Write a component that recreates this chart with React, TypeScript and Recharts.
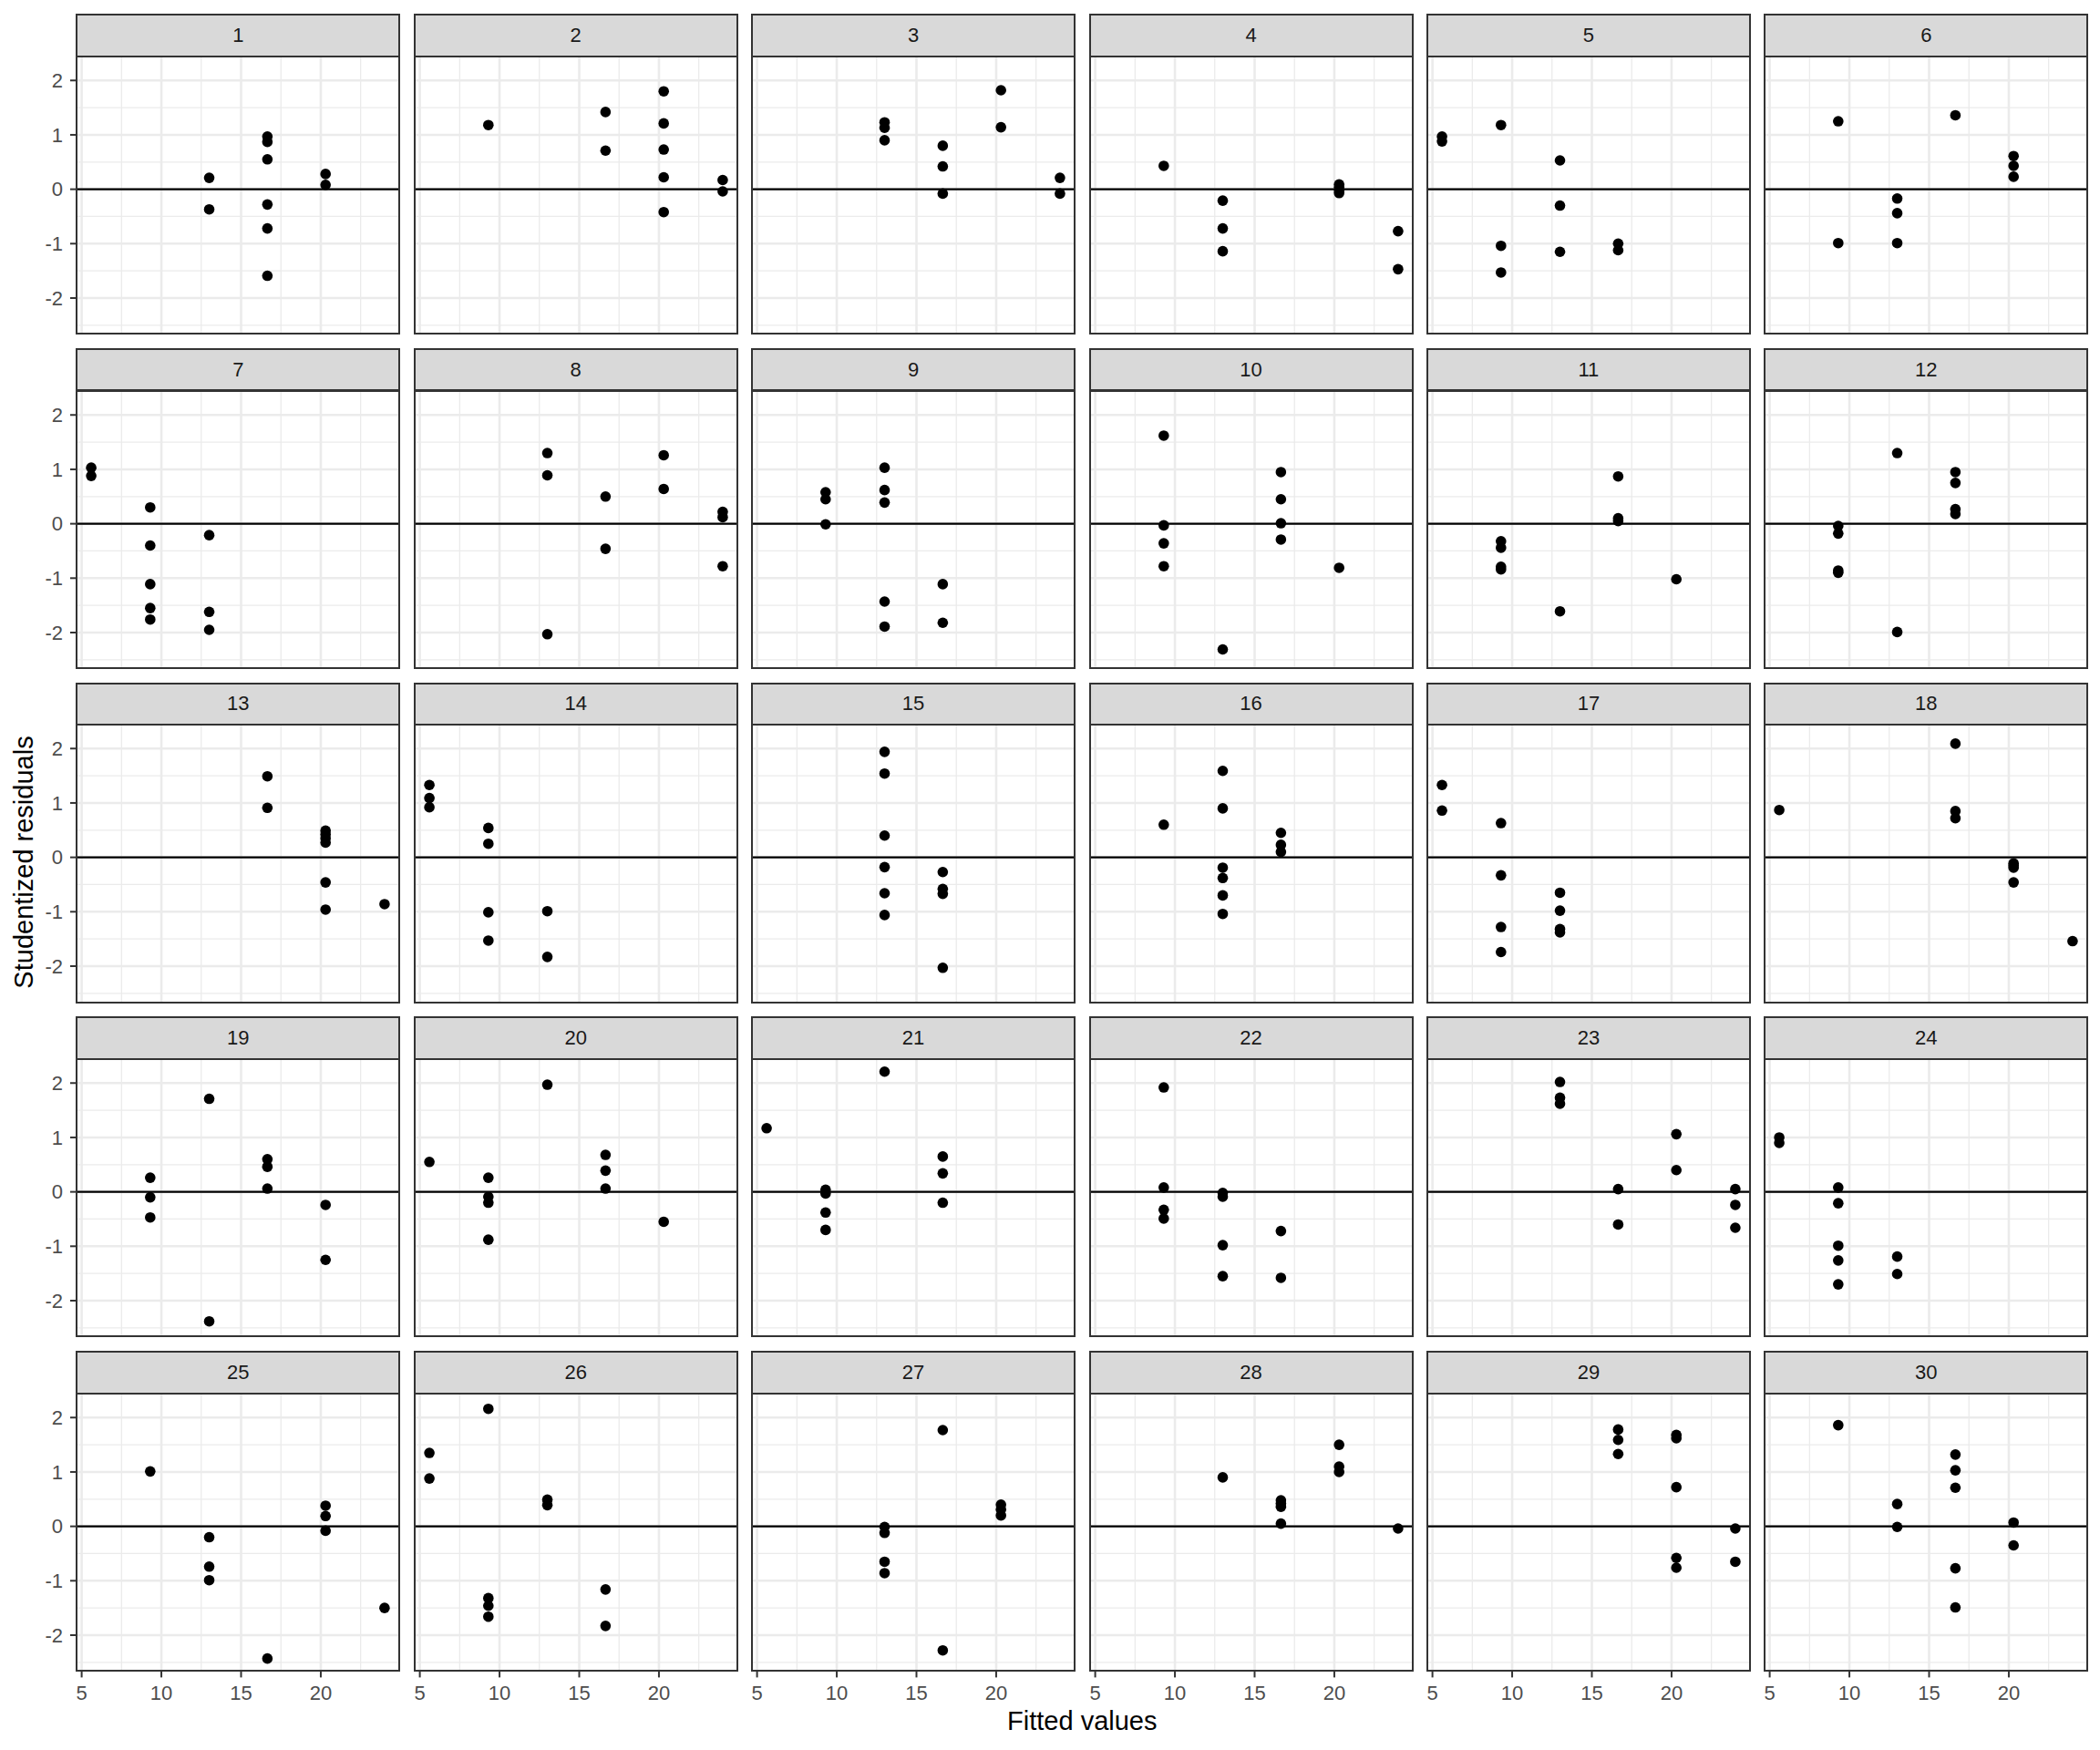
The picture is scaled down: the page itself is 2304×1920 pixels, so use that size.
import { ScatterChart, Scatter, XAxis, YAxis, ReferenceLine } from 'recharts'

// fitted values shared by every subject
const fitted = [5.6, 9.3, 13, 16.65, 20.3, 24]

// studentized residuals per subject, grouped by fitted level (same order as `fitted`)
const s1 = [[], [], [0.21, -0.37], [0.97, 0.87, 0.55, -0.28, -0.72, -1.59], [0.28, 0.08], []]
const s2 = [[], [1.18], [], [1.42, 0.71], [1.8, 1.21, 0.73, 0.22, -0.42], [0.17, -0.04]]
const s3 = [[], [], [1.23, 1.13, 0.9], [0.8, 0.42, -0.08], [1.82, 1.14], [0.21, -0.08]]
const s4 = [[], [0.43], [-0.21, -0.72, -1.14], [], [0.09, 0.04, -0.02, -0.07], [-0.77, -1.47]]
const s5 = [[0.97, 0.88], [1.18, -1.04, -1.53], [0.53, -0.3, -1.15], [-1.0, -1.12], [], []]
const s6 = [[], [1.25, -0.99], [-0.17, -0.44, -0.99], [1.36], [0.61, 0.43, 0.23], []]
const s7 = [[1.03, 0.88], [0.3, -0.4, -1.11, -1.55, -1.76], [-0.21, -1.62, -1.95], [], [], []]
const s8 = [[], [], [1.3, 0.89, -2.03], [0.5, -0.46], [1.26, 0.64], [0.22, 0.12, -0.78]]
const s9 = [[], [0.58, 0.45, -0.01], [1.03, 0.62, 0.39, -1.43, -1.89], [-1.11, -1.82], [], []]
const s10 = [[], [1.62, -0.03, -0.36, -0.78], [-2.31], [0.95, 0.45, 0.01, -0.29], [-0.81], []]
const s11 = [[], [-0.32, -0.44, -0.79, -0.84], [-1.61], [0.87, 0.1, 0.05], [-1.02], []]
const s12 = [[], [-0.04, -0.18, -0.86, -0.9], [1.3, -1.99], [0.95, 0.75, 0.27, 0.18], [], []]
const s13 = [[], [], [], [1.49, 0.91], [0.49, 0.42, 0.35, 0.27, -0.46, -0.96], [-0.86]]
const s14 = [[1.33, 1.09, 0.92], [0.54, 0.25, -1.01, -1.53], [-0.99, -1.83], [], [], []]
const s15 = [[], [], [1.94, 1.54, 0.4, -0.18, -0.66, -1.06], [-0.27, -0.58, -0.67, -2.03], [], []]
const s16 = [[], [0.6], [1.59, 0.9, -0.19, -0.38, -0.7, -1.04], [0.45, 0.23, 0.1], [], []]
const s17 = [[1.33, 0.86], [0.63, -0.33, -1.28, -1.74], [-0.65, -0.98, -1.32, -1.38], [], [], []]
const s18 = [[0.87], [], [], [2.09, 0.85, 0.72], [-0.11, -0.15, -0.19, -0.46], [-1.54]]
const s19 = [[], [0.26, -0.1, -0.47], [1.71, -2.38], [0.6, 0.46, 0.06], [-0.24, -1.25], []]
const s20 = [[0.55], [0.26, -0.09, -0.2, -0.88], [1.97], [0.68, 0.39, 0.06], [-0.55], []]
const s21 = [[1.17], [0.04, -0.03, -0.38, -0.7], [2.21], [0.65, 0.34, -0.2], [], []]
const s22 = [[], [1.92, 0.08, -0.33, -0.49], [-0.02, -0.09, -0.98, -1.55], [-0.72, -1.58], [], []]
const s23 = [[], [], [2.02, 1.73, 1.62], [0.05, -0.6], [1.06, 0.4], [0.05, -0.24, -0.66]]
const s24 = [[1.0, 0.9], [0.08, -0.21, -0.99, -1.26, -1.7], [-1.19, -1.51], [], [], []]
const s25 = [[], [1.01], [-0.2, -0.74, -0.99], [-2.43], [0.38, 0.19, -0.08], [-1.5]]
const s26 = [[1.35, 0.88], [2.16, -1.32, -1.46, -1.66], [0.49, 0.39], [-1.16, -1.83], [], []]
const s27 = [[], [], [-0.01, -0.12, -0.65, -0.86], [1.77, -2.28], [0.4, 0.31, 0.2], []]
const s28 = [[], [], [0.9], [0.48, 0.42, 0.36, 0.05], [1.5, 1.1, 1.0], [-0.04]]
const s29 = [[], [], [], [1.78, 1.59, 1.33], [1.68, 1.62, 0.72, -0.58, -0.76], [-0.04, -0.65]]
const s30 = [[], [1.86], [0.41, -0.01], [1.32, 1.03, 0.71, -0.77, -1.49], [0.07, -0.35], []]

const subjects: number[][][] = [
  s1, s2, s3, s4, s5, s6, s7, s8, s9, s10, s11, s12, s13, s14, s15,
  s16, s17, s18, s19, s20, s21, s22, s23, s24, s25, s26, s27, s28, s29, s30,
]

const xTicks = [5, 10, 15, 20]
const yTicks = [-2, -1, 0, 1, 2]
const xMinor = [7.5, 12.5, 17.5, 22.5]
const yMinor = [-2.5, -1.5, -0.5, 0.5, 1.5]

const X_DOMAIN: [number, number] = [4.68, 24.92]
const Y_DOMAIN: [number, number] = [-2.66, 2.44]

const FONT = '"Liberation Sans", Arial, Helvetica, sans-serif'
const GRID_LEFT = 84.3
const GRID_TOP = 15
const COL_STEP = 370.4
const ROW_STEP = 366.8
const PLOT_W = 354
const PLOT_H = 304.4
const STRIP_H = 46.7
const AXIS_W = 70
const AXIS_H = 50

const tickText = { fill: '#4D4D4D', fontSize: 22, fontFamily: FONT }
const tickMark = { stroke: '#333333', strokeWidth: 2 }

function Dot(props: any) {
  return <circle cx={props.cx} cy={props.cy} r={5.8} fill="#000" />
}

function Panel({ idx }: { idx: number }) {
  const col = idx % 6
  const row = Math.floor(idx / 6)
  const left = GRID_LEFT + col * COL_STEP
  const stripTop = GRID_TOP + row * ROW_STEP
  const plotTop = stripTop + STRIP_H
  const showY = col === 0
  const showX = row === 4
  const points = subjects[idx].flatMap((vals, k) => vals.map(v => ({ x: fitted[k], y: v })))

  return (
    <>
      <div style={{
        position: 'absolute', left: left - 1, top: stripTop, width: PLOT_W + 2, height: STRIP_H + 1,
        boxSizing: 'border-box', background: '#D9D9D9', border: '2px solid #333333',
        display: 'flex', alignItems: 'center', justifyContent: 'center',
        fontFamily: FONT, fontSize: 22, color: '#1A1A1A',
      }}>
        {idx + 1}
      </div>
      <div style={{ position: 'absolute', left: left - AXIS_W, top: plotTop }}>
        <ScatterChart width={PLOT_W + AXIS_W} height={PLOT_H + AXIS_H} margin={{ top: 0, right: 0, bottom: 0, left: 0 }}>
          <XAxis
            type="number" dataKey="x" domain={X_DOMAIN} ticks={xTicks} allowDataOverflow interval={0}
            height={AXIS_H} axisLine={false} tickSize={7} tickMargin={9}
            tick={showX ? tickText : false} tickLine={showX ? tickMark : false}
          />
          <YAxis
            type="number" dataKey="y" domain={Y_DOMAIN} ticks={yTicks} allowDataOverflow interval={0}
            width={AXIS_W} axisLine={false} tickSize={7} tickMargin={8}
            tick={showY ? tickText : false} tickLine={showY ? tickMark : false}
          />
          {yMinor.map(v => <ReferenceLine key={'ym' + v} y={v} stroke="#EBEBEB" strokeWidth={1.3} />)}
          {xMinor.map(v => <ReferenceLine key={'xm' + v} x={v} stroke="#EBEBEB" strokeWidth={1.3} />)}
          {yTicks.map(v => <ReferenceLine key={'yM' + v} y={v} stroke="#EBEBEB" strokeWidth={2.6} />)}
          {xTicks.map(v => <ReferenceLine key={'xM' + v} x={v} stroke="#EBEBEB" strokeWidth={2.6} />)}
          <ReferenceLine y={0} stroke="#000" strokeWidth={2.2} />
          <Scatter data={points} isAnimationActive={false} shape={<Dot />} />
        </ScatterChart>
      </div>
      <div style={{
        position: 'absolute', left: left - 1, top: plotTop - 1, width: PLOT_W + 2, height: PLOT_H + 2,
        boxSizing: 'border-box', border: '2px solid #333333', pointerEvents: 'none',
      }} />
    </>
  )
}

export default function App() {
  return (
    <div style={{ position: 'absolute', left: 0, top: 0, width: 2304, height: 1920, background: '#fff', overflow: 'hidden' }}>
      {subjects.map((_, i) => <Panel key={i} idx={i} />)}
      <div style={{
        position: 'absolute', left: GRID_LEFT, width: 5 * COL_STEP + PLOT_W, top: 1872,
        textAlign: 'center', fontFamily: FONT, fontSize: 29, color: '#000',
      }}>
        Fitted values
      </div>
      <div style={{
        position: 'absolute', left: 26, top: 946, transform: 'translate(-50%, -50%) rotate(-90deg)',
        whiteSpace: 'nowrap', fontFamily: FONT, fontSize: 29, color: '#000',
      }}>
        Studentized residuals
      </div>
    </div>
  )
}
